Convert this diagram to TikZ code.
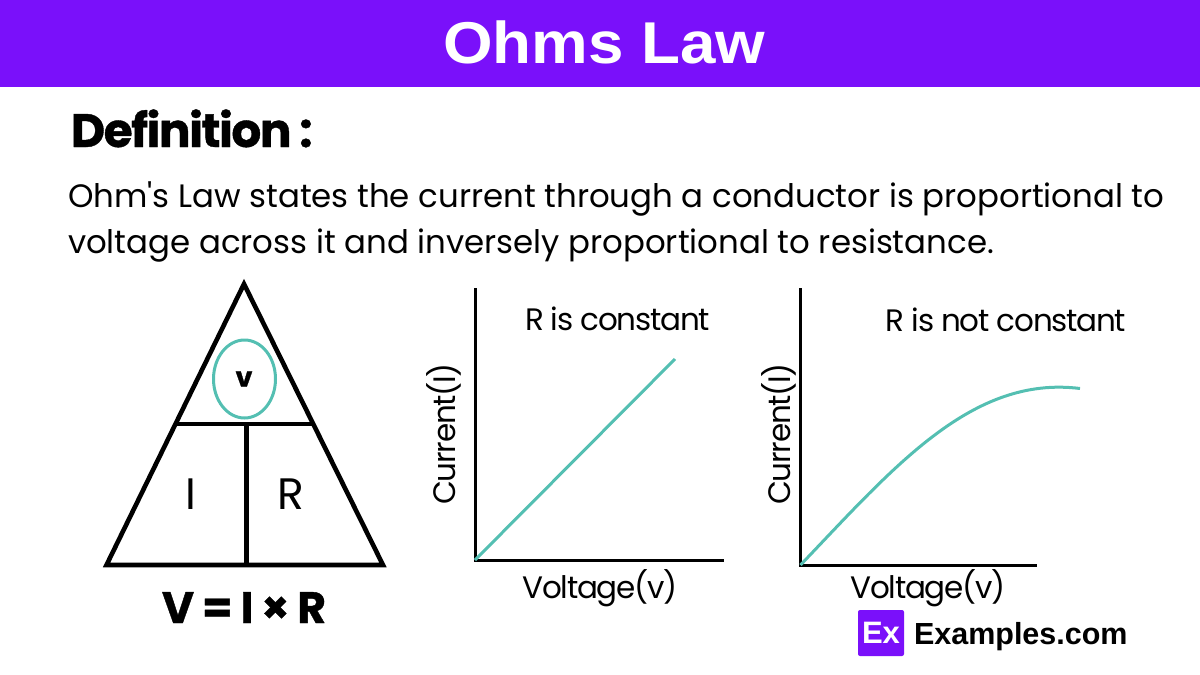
\documentclass[tikz,border=0pt]{standalone}
\usepackage{graphicx}
\usepackage{fontspec}
\usetikzlibrary{shapes.geometric}
\setmainfont{Poppins}[BoldFeatures={FakeBold=0.8}]
\newfontfamily\plainf{Poppins}
\newfontfamily\brandf{Liberation Sans}
\definecolor{headpurple}{HTML}{7A10FA}
\definecolor{teal1}{HTML}{54BFB2}
\tikzset{
  x=1pt,y=-1pt,
  txt/.style={inner sep=0pt,outer sep=0pt,text=black},
  frameline/.style={draw=black,line width=4.6pt,line join=miter},
  axisline/.style={draw=black,line width=3pt},
  plotline/.style={draw=teal1,line width=3pt},
  bodytxt/.style={txt,anchor=base west,font=\fontsize{32.4}{33}\selectfont},
  plottxt/.style={txt,anchor=base,font=\fontsize{31}{31}\selectfont\addfontfeature{LetterSpace=-4}},
  heavytxt/.style={txt,font=\fontsize{#1}{#1}\selectfont\bfseries\addfontfeature{LetterSpace=-3.2}},
}
\begin{document}
\begin{tikzpicture}
\useasboundingbox (0,0) rectangle (1200,675);
\fill[headpurple] (0,0) rectangle (1200,87);
\node[txt,anchor=base,text=white,font=\brandf\fontsize{59}{59}\selectfont\bfseries] (title) at (604.5,63) {\scalebox{1.08}[1]{Ohms Law}};
\node[heavytxt=47,anchor=base west] (def) at (71,147) {Definition\,:};
\node[bodytxt] (l1) at (68,207) {Ohm{\plainf '}s Law states the current through a conductor is proportional to};
\node[bodytxt] (l2) at (68,253) {voltage across it and inversely proportional to resistance.};
% triangle
\coordinate (apex) at (244,284);
\coordinate (bl) at (106.5,565);
\coordinate (br) at (383,565);
\coordinate (ml) at (174,424);
\coordinate (mr) at (315,424);
\coordinate (mt) at (246.5,424);
\coordinate (mb) at (246.5,566);
\path[frameline] (apex) -- (br) -- (bl) -- cycle;
\path[frameline] (ml) -- (mr);
\path[frameline] (mt) -- (mb);
\node[draw=teal1,line width=3pt,ellipse,minimum width=62pt,minimum height=78pt,inner sep=0pt] (oval) at (244.5,379) {};
\node[txt,font=\fontsize{27}{27}\selectfont\bfseries] (v) at (244,379) {v};
\node[txt,anchor=base,font=\fontsize{44}{44}\selectfont] (i) at (191,509) {I};
\node[txt,anchor=base,font=\fontsize{44}{44}\selectfont] (r) at (291,509) {R};
\node[heavytxt=44,anchor=base] (eq) at (244,623) {V = I × R};
% graph 1
\coordinate (a1t) at (475,288);
\coordinate (a1o) at (475,560);
\coordinate (a1r) at (724,560);
\coordinate (p1e) at (675,359);
\path[axisline] (a1t) -- (a1o) -- (a1r);
\path[plotline] (a1o) -- (p1e);
\node[plottxt] (c1) at (617.5,330) {R is constant};
\node[plottxt,rotate=90] (y1) at (455.5,434) {Current(I)};
\node[plottxt] (x1) at (600,598) {Voltage(v)};
% graph 2
\coordinate (a2t) at (800.5,288);
\coordinate (a2o) at (800.5,565);
\coordinate (a2r) at (1037,565);
\coordinate (p2e) at (1080,388.5);
\path[axisline] (a2t) -- (a2o) -- (a2r);
\path[plotline] (a2o) .. controls (894,467) and (972,375) .. (p2e);
\node[plottxt] (c2) at (1006,331) {R is not constant};
\node[plottxt,rotate=90] (y2) at (790.5,434) {Current(I)};
\node[plottxt] (x2) at (928,598) {Voltage(v)};
% logo
\node[fill=headpurple,rounded corners=2pt,minimum width=46pt,minimum height=46pt,inner sep=0pt,text=white,font=\brandf\fontsize{31}{31}\selectfont\bfseries] (logo) at (881,633) {Ex};
\node[txt,anchor=base west,font=\brandf\fontsize{30.5}{31}\selectfont\bfseries] (brand) at (914,644) {Examples.com};
\end{tikzpicture}
\end{document}
